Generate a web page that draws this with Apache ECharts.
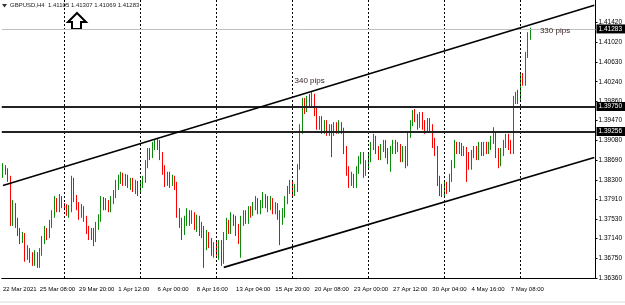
<!DOCTYPE html>
<html>
<head>
<meta charset="utf-8">
<script src="https://cdn.jsdelivr.net/npm/echarts@6/dist/echarts.min.js"></script>
<style>
html,body{margin:0;padding:0;background:#fff}
#chart{width:625px;height:305px}
</style>
</head>
<body>
<div id="chart"></div>
<script>
// GBPUSD H4, one row per bar: [open, high, low, close]
var candles = [
  [1.3840,1.3863,1.3834,1.3853],[1.3853,1.3859,1.3840,1.3846],[1.3846,1.3853,1.3826,1.3834],[1.3834,1.3838,1.3739,1.3747],
  [1.3747,1.3790,1.3739,1.3780],[1.3780,1.3784,1.3735,1.3747],[1.3747,1.3755,1.3719,1.3727],[1.3727,1.3735,1.3703,1.3711],
  [1.3711,1.3727,1.3705,1.3719],[1.3719,1.3725,1.3668,1.3681],[1.3681,1.3701,1.3672,1.3691],[1.3691,1.3695,1.3666,1.3676],
  [1.3676,1.3687,1.3660,1.3668],[1.3668,1.3691,1.3660,1.3681],[1.3681,1.3687,1.3656,1.3668],[1.3668,1.3695,1.3656,1.3687],
  [1.3687,1.3719,1.3680,1.3711],[1.3711,1.3739,1.3703,1.3727],[1.3727,1.3735,1.3711,1.3719],[1.3719,1.3751,1.3715,1.3743],
  [1.3743,1.3770,1.3735,1.3761],[1.3761,1.3798,1.3755,1.3786],[1.3786,1.3794,1.3766,1.3774],[1.3774,1.3802,1.3766,1.3790],
  [1.3790,1.3798,1.3774,1.3780],
  // week of 29 Mar
  [1.3780,1.3784,1.3770,1.3776],[1.3776,1.3782,1.3759,1.3766],[1.3766,1.3780,1.3755,1.3774],[1.3774,1.3838,1.3766,1.3826],
  [1.3826,1.3834,1.3786,1.3794],[1.3794,1.3800,1.3770,1.3778],[1.3778,1.3786,1.3751,1.3762],[1.3762,1.3782,1.3755,1.3774],
  [1.3774,1.3778,1.3747,1.3755],[1.3755,1.3759,1.3723,1.3731],[1.3731,1.3739,1.3711,1.3719],[1.3719,1.3735,1.3711,1.3727],
  [1.3727,1.3735,1.3699,1.3715],[1.3715,1.3747,1.3707,1.3739],[1.3739,1.3762,1.3731,1.3755],[1.3755,1.3798,1.3747,1.3790],
  [1.3790,1.3796,1.3770,1.3778],[1.3778,1.3794,1.3770,1.3784],[1.3784,1.3790,1.3766,1.3774],[1.3774,1.3798,1.3766,1.3790],
  [1.3790,1.3810,1.3782,1.3802],[1.3802,1.3830,1.3794,1.3818],[1.3818,1.3840,1.3810,1.3830],[1.3830,1.3846,1.3822,1.3838],
  [1.3838,1.3844,1.3818,1.3826],[1.3826,1.3842,1.3818,1.3834],[1.3834,1.3840,1.3814,1.3820],[1.3820,1.3834,1.3810,1.3828],
  [1.3828,1.3834,1.3806,1.3814],[1.3814,1.3830,1.3802,1.3822],[1.3822,1.3828,1.3798,1.3810],
  // week of 5 Apr
  [1.3810,1.3826,1.3804,1.3820],[1.3820,1.3838,1.3814,1.3830],[1.3830,1.3869,1.3824,1.3859],[1.3859,1.3893,1.3853,1.3885],
  [1.3885,1.3893,1.3869,1.3877],[1.3877,1.3905,1.3873,1.3897],[1.3897,1.3911,1.3889,1.3905],[1.3905,1.3913,1.3889,1.3897],
  [1.3897,1.3909,1.3869,1.3877],[1.3877,1.3885,1.3840,1.3850],[1.3850,1.3859,1.3816,1.3830],[1.3830,1.3846,1.3818,1.3838],
  [1.3838,1.3846,1.3814,1.3826],[1.3826,1.3840,1.3818,1.3834],[1.3834,1.3838,1.3810,1.3820],[1.3820,1.3826,1.3755,1.3766],
  [1.3766,1.3774,1.3735,1.3747],[1.3747,1.3755,1.3711,1.3731],[1.3731,1.3759,1.3721,1.3747],[1.3747,1.3774,1.3739,1.3762],
  [1.3762,1.3770,1.3739,1.3751],[1.3751,1.3770,1.3743,1.3761],[1.3761,1.3766,1.3731,1.3741],[1.3741,1.3761,1.3727,1.3751],
  [1.3751,1.3759,1.3719,1.3727],[1.3727,1.3747,1.3715,1.3735],[1.3735,1.3739,1.3656,1.3701],[1.3701,1.3731,1.3691,1.3719],
  [1.3719,1.3727,1.3695,1.3707],[1.3707,1.3715,1.3680,1.3691],[1.3691,1.3707,1.3676,1.3699],
  // week of 12 Apr
  [1.3699,1.3711,1.3680,1.3687],[1.3687,1.3711,1.3672,1.3703],[1.3703,1.3711,1.3660,1.3672],[1.3672,1.3727,1.3664,1.3719],
  [1.3719,1.3755,1.3711,1.3743],[1.3743,1.3751,1.3723,1.3731],[1.3731,1.3766,1.3723,1.3759],[1.3759,1.3762,1.3739,1.3747],
  [1.3747,1.3759,1.3719,1.3735],[1.3735,1.3743,1.3703,1.3727],[1.3727,1.3759,1.3676,1.3747],[1.3747,1.3770,1.3739,1.3762],
  [1.3762,1.3770,1.3743,1.3751],[1.3751,1.3778,1.3743,1.3770],[1.3770,1.3778,1.3755,1.3762],[1.3762,1.3786,1.3759,1.3778],
  [1.3778,1.3798,1.3770,1.3790],[1.3790,1.3794,1.3762,1.3770],[1.3770,1.3790,1.3762,1.3782],[1.3782,1.3806,1.3774,1.3798],
  [1.3798,1.3802,1.3774,1.3786],[1.3786,1.3798,1.3766,1.3778],[1.3778,1.3798,1.3770,1.3790],[1.3790,1.3794,1.3762,1.3770],
  [1.3770,1.3786,1.3762,1.3778],[1.3778,1.3784,1.3751,1.3762],[1.3762,1.3770,1.3701,1.3751],[1.3751,1.3774,1.3741,1.3762],
  [1.3762,1.3798,1.3755,1.3790],[1.3790,1.3818,1.3782,1.3810],[1.3810,1.3830,1.3802,1.3822],
  // week of 19 Apr
  [1.3822,1.3830,1.3798,1.3806],[1.3806,1.3822,1.3798,1.3814],[1.3814,1.3861,1.3806,1.3853],[1.3853,1.3940,1.3850,1.3929],
  [1.3929,1.3992,1.3921,1.3980],[1.3980,1.3992,1.3960,1.3972],[1.3972,1.3996,1.3964,1.3988],[1.3988,1.4000,1.3972,1.3980],
  [1.3980,1.4004,1.3972,1.3996],[1.3996,1.4000,1.3956,1.3964],[1.3964,1.3972,1.3929,1.3936],[1.3936,1.3956,1.3929,1.3948],
  [1.3948,1.3956,1.3921,1.3933],[1.3933,1.3948,1.3921,1.3940],[1.3940,1.3948,1.3917,1.3929],[1.3929,1.3940,1.3917,1.3933],
  [1.3933,1.3940,1.3875,1.3925],[1.3925,1.3944,1.3917,1.3936],[1.3936,1.3944,1.3921,1.3929],[1.3929,1.3948,1.3921,1.3940],
  [1.3940,1.3944,1.3921,1.3929],[1.3929,1.3933,1.3881,1.3889],[1.3889,1.3897,1.3838,1.3850],[1.3850,1.3857,1.3814,1.3826],
  [1.3826,1.3846,1.3818,1.3834],[1.3834,1.3842,1.3814,1.3822],[1.3822,1.3857,1.3814,1.3850],[1.3850,1.3877,1.3842,1.3869],
  [1.3869,1.3885,1.3861,1.3879],[1.3879,1.3885,1.3834,1.3846],[1.3846,1.3869,1.3838,1.3861],
  // week of 26 Apr
  [1.3861,1.3881,1.3853,1.3873],[1.3873,1.3905,1.3865,1.3897],[1.3897,1.3921,1.3889,1.3913],[1.3913,1.3917,1.3881,1.3889],
  [1.3889,1.3897,1.3869,1.3877],[1.3877,1.3901,1.3869,1.3893],[1.3893,1.3909,1.3885,1.3901],[1.3901,1.3909,1.3873,1.3885],
  [1.3885,1.3893,1.3861,1.3869],[1.3869,1.3897,1.3846,1.3889],[1.3889,1.3909,1.3881,1.3901],[1.3901,1.3909,1.3881,1.3889],
  [1.3889,1.3905,1.3885,1.3897],[1.3897,1.3901,1.3865,1.3873],[1.3873,1.3897,1.3865,1.3889],[1.3889,1.3897,1.3853,1.3861],
  [1.3861,1.3925,1.3857,1.3917],[1.3917,1.3948,1.3913,1.3940],[1.3940,1.3968,1.3936,1.3960],[1.3960,1.3970,1.3944,1.3952],
  [1.3952,1.3960,1.3929,1.3936],[1.3936,1.3964,1.3933,1.3956],[1.3956,1.3964,1.3929,1.3940],[1.3940,1.3948,1.3921,1.3929],
  [1.3929,1.3952,1.3925,1.3944],[1.3944,1.3952,1.3925,1.3933],[1.3933,1.3940,1.3893,1.3901],[1.3901,1.3913,1.3877,1.3889],
  [1.3889,1.3897,1.3818,1.3830],[1.3830,1.3838,1.3798,1.3814],[1.3814,1.3822,1.3796,1.3806],
  // week of 3 May
  [1.3806,1.3826,1.3798,1.3818],[1.3818,1.3826,1.3802,1.3814],[1.3814,1.3842,1.3806,1.3834],[1.3834,1.3869,1.3826,1.3861],
  [1.3861,1.3909,1.3853,1.3897],[1.3897,1.3905,1.3881,1.3889],[1.3889,1.3905,1.3881,1.3897],[1.3897,1.3903,1.3877,1.3885],
  [1.3885,1.3897,1.3877,1.3889],[1.3889,1.3895,1.3826,1.3877],[1.3877,1.3885,1.3850,1.3857],[1.3857,1.3889,1.3850,1.3881],
  [1.3881,1.3897,1.3873,1.3889],[1.3889,1.3897,1.3869,1.3877],[1.3877,1.3905,1.3869,1.3897],[1.3897,1.3905,1.3877,1.3885],
  [1.3885,1.3905,1.3877,1.3897],[1.3897,1.3905,1.3881,1.3889],[1.3889,1.3905,1.3881,1.3897],[1.3897,1.3917,1.3889,1.3909],
  [1.3909,1.3934,1.3901,1.3917],[1.3917,1.3925,1.3873,1.3885],[1.3885,1.3893,1.3853,1.3869],[1.3869,1.3893,1.3857,1.3885],
  [1.3885,1.3909,1.3877,1.3901],[1.3901,1.3921,1.3893,1.3913],[1.3913,1.3921,1.3889,1.3897],[1.3897,1.3909,1.3881,1.3889],
  [1.3889,1.3996,1.3881,1.3988],[1.3988,1.4004,1.3980,1.3996],[1.3996,1.4008,1.3980,1.3988],
  // week of 10 May
  [1.3988,1.4043,1.3984,1.4035],[1.4035,1.4041,1.4016,1.4023],[1.4023,1.4083,1.4016,1.4077],[1.4077,1.4122,1.4071,1.4111],
  [1.41105,1.41307,1.41069,1.41283]
];

var barCount = 242;   // bars that fit the window, incl. empty space on the right
var xLabelAt = [0, 15, 31, 47, 63, 79, 95, 111, 127, 143, 159, 175, 191, 207];
var xLabels = ['22 Mar 2021', '25 Mar 08:00', '29 Mar 20:00', '1 Apr 12:00', '6 Apr 00:00', '8 Apr 16:00',
  '13 Apr 04:00', '15 Apr 20:00', '20 Apr 08:00', '23 Apr 00:00', '27 Apr 12:00', '30 Apr 04:00',
  '4 May 16:00', '7 May 08:00'];
var yTicks = [1.3636, 1.3675, 1.3714, 1.3753, 1.3791, 1.3830, 1.3869, 1.3908, 1.3947, 1.3986,
  1.4024, 1.4063, 1.4102, 1.4142];
var weekStarts = [25, 56, 87, 118, 149, 180, 211];
var levels = [1.39750, 1.39256];
var lastPrice = 1.41283;
var channelTop = [[0, 1.3819], [241, 1.4175]];
var channelBottom = [[90, 1.3657], [241, 1.3874]];
var notes = [
  { text: '340 pips', at: [125, 1.4025] },
  { text: '330 pips', at: [225, 1.4124] }
];
var header = 'GBPUSD,H4  1.41105 1.41307 1.41069 1.41283';

var UP = '#0a8c0a', DOWN = '#ff0000';
var FONT = "'Liberation Sans',sans-serif";

(function () {
  var myChart = echarts.init(document.getElementById('chart'), null, { renderer: 'canvas' });

  var cats = [];
  for (var i = 0; i < barCount; i++) cats.push(String(i));
  // echarts order: open, close, low, high
  var data = candles.map(function (c) { return [c[0], c[3], c[2], c[1]]; });

  function xLabelFor(idx) {
    var k = xLabelAt.indexOf(idx);
    return k < 0 ? '' : xLabels[k];
  }
  function atLabel(idx) { return xLabelAt.indexOf(idx) >= 0; }

  var boxLabel = {
    show: true, position: 'end', distance: 1,
    formatter: function (p) { return Number(p.value).toFixed(5); },
    backgroundColor: '#000', color: '#fff', fontSize: 6.5, fontFamily: FONT,
    padding: [1, 3, 1, 2]
  };

  var lines = [];
  weekStarts.forEach(function (w) {
    lines.push({ xAxis: w, lineStyle: { color: '#000', type: [2, 2], width: 1 }, label: { show: false } });
  });
  levels.forEach(function (v) {
    lines.push({ yAxis: v, lineStyle: { color: '#222', type: 'solid', width: 2 }, label: boxLabel });
  });
  lines.push({ yAxis: lastPrice, lineStyle: { color: '#c0c0c0', type: 'solid', width: 1 }, label: boxLabel });
  [channelTop, channelBottom].forEach(function (seg) {
    lines.push([
      { coord: seg[0], lineStyle: { color: '#000', type: 'solid', width: 1.6 }, label: { show: false } },
      { coord: seg[1] }
    ]);
  });

  var option = {
    animation: false,
    backgroundColor: '#fff',
    grid: { left: 0, right: 27, top: 0, bottom: 27 },
    xAxis: {
      type: 'category',
      data: cats,
      boundaryGap: true,
      axisLine: { lineStyle: { color: '#000', width: 1 } },
      axisTick: { alignWithLabel: true, length: 3, lineStyle: { color: '#000' }, interval: atLabel },
      axisLabel: {
        interval: atLabel,
        formatter: function (v, idx) { return xLabelFor(idx); },
        showMinLabel: true,
        align: 'left', margin: 8, fontSize: 6, color: '#000', fontFamily: FONT
      },
      splitLine: { show: false }
    },
    yAxis: {
      type: 'value',
      position: 'right',
      min: 1.3636,
      max: 1.41855,
      scale: true,
      axisLine: { show: true, lineStyle: { color: '#000', width: 1 } },
      axisTick: { show: true, length: 2, lineStyle: { color: '#000' }, customValues: yTicks },
      axisLabel: {
        customValues: yTicks, margin: 3, fontSize: 6.5, color: '#000', fontFamily: FONT,
        formatter: function (v) { return v.toFixed(5); }
      },
      splitLine: { show: false }
    },
    series: [{
      type: 'candlestick',
      data: data,
      barWidth: 1,
      itemStyle: { color: UP, color0: DOWN, borderColor: UP, borderColor0: DOWN, borderWidth: 1 },
      markLine: {
        symbol: ['none', 'none'],
        silent: true,
        animation: false,
        precision: 5,
        data: lines
      },
      markPoint: {
        symbol: 'circle', symbolSize: 0, silent: true,
        data: notes.map(function (n) {
          return {
            coord: n.at, value: n.text,
            label: { show: true, formatter: n.text, color: '#3a2424', fontSize: 8, fontFamily: FONT }
          };
        })
      }
    }],
    graphic: [
      { type: 'polygon', shape: { points: [[2, 4], [7, 4], [4.5, 7.5]] }, style: { fill: '#333' } },
      { type: 'text', left: 10, top: 2, style: { text: header, fill: '#222', font: '6px ' + FONT } },
      {
        type: 'polygon',
        shape: { points: [[77, 13], [86, 22], [81, 22], [81, 29], [72, 29], [72, 22], [68, 22]] },
        style: { fill: '#fff', stroke: '#000', lineWidth: 2 }
      },
      { type: 'line', shape: { x1: 0, y1: 302, x2: 625, y2: 302 }, style: { stroke: '#d8d8d8', lineWidth: 1 } }
    ]
  };

  myChart.setOption(option);
  window.addEventListener('resize', function () { myChart.resize(); });
})();
</script>
</body>
</html>
